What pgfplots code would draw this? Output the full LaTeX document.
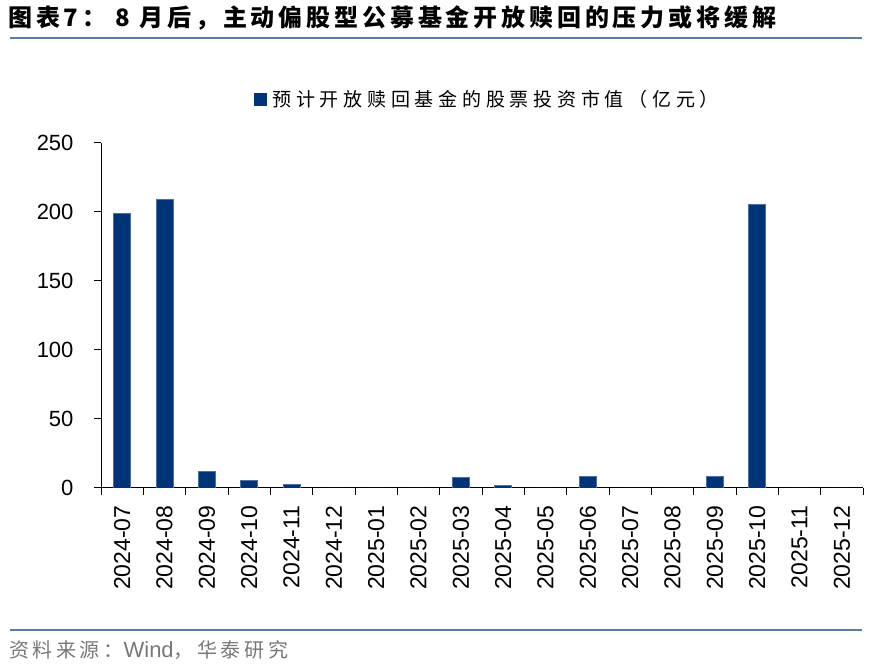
\documentclass[border=0pt]{standalone}
\usepackage{pgfplots}
\pgfplotsset{compat=1.18}
\usepackage{fontspec}
\setmainfont{Liberation Sans}
\newfontfamily\cjk{Noto Sans CJK SC}
\definecolor{navy}{RGB}{0,52,120}
\definecolor{rulecol}{RGB}{90,125,168}
\definecolor{srcgray}{RGB}{120,120,120}
\begin{document}
\begin{tikzpicture}
\path[use as bounding box] (0pt,0pt) rectangle (881pt,669pt);
\draw[rulecol, line width=2pt] (10pt,631pt) -- (862pt,631pt);
\draw[rulecol, line width=2pt] (10pt,39pt) -- (862pt,39pt);
\node[anchor=west, inner sep=0pt, font=\cjk\bfseries\fontsize{24}{26}\selectfont\addfontfeature{LetterSpace=16}] at (8pt,651pt) {图表7： 8 月后，主动偏股型公募基金开放赎回的压力或将缓解};
\node[anchor=west, inner sep=0pt, text=srcgray, font=\cjk\fontsize{20}{22}\selectfont\addfontfeature{LetterSpace=18}] at (9pt,19pt) {资料来源：{\rmfamily\fontsize{22}{22}\selectfont Wind}，华泰研究};
\begin{axis}[
  at={(101pt,181pt)}, anchor=south west,
  scale only axis, width=762pt, height=345pt,
  ybar, bar width=17pt,
  xmin=-0.5, xmax=17.5, ymin=0, ymax=250,
  ytick={0,50,100,150,200,250},
  xtick={0,...,17},
  xticklabels={2024-07,2024-08,2024-09,2024-10,2024-11,2024-12,2025-01,2025-02,2025-03,2025-04,2025-05,2025-06,2025-07,2025-08,2025-09,2025-10,2025-11,2025-12},
  major x tick style={draw=none},
  minor xtick={-0.5,0.5,...,17.5},
  minor tick length=7pt,
  x tick style={black, line width=1pt},
  y tick style={black, line width=1pt},
  major tick length=7pt,
  tick align=outside,
  axis lines*=left,
  axis line style={black, line width=1pt},
  xticklabel shift=7pt,
  xticklabel style={rotate=90, anchor=east, font=\fontsize{23}{25}\selectfont},
  yticklabel style={font=\fontsize{22}{24}\selectfont, xshift=-17pt},
  /pgf/number format/assume math mode=true,
  legend style={at={(0.507,1.128)}, anchor=center, draw=none, column sep=4pt, font=\cjk\fontsize{19}{22}\selectfont\addfontfeature{LetterSpace=25}, inner sep=0pt},
  legend image code/.code={\fill[navy] (0pt,-6pt) rectangle (12pt,6pt);},
]
\addplot[fill=navy, draw=navy!70!white, line width=0.5pt] coordinates {
(0,199) (1,209) (2,12) (3,5.3) (4,2.4) (5,0) (6,0) (7,0) (8,7.5) (9,2) (10,0) (11,8.5) (12,0) (13,0) (14,8.2) (15,205.5) (16,0) (17,0)};
\addlegendentry{预计开放赎回基金的股票投资市值（亿元）}
\end{axis}
\end{tikzpicture}
\end{document}
